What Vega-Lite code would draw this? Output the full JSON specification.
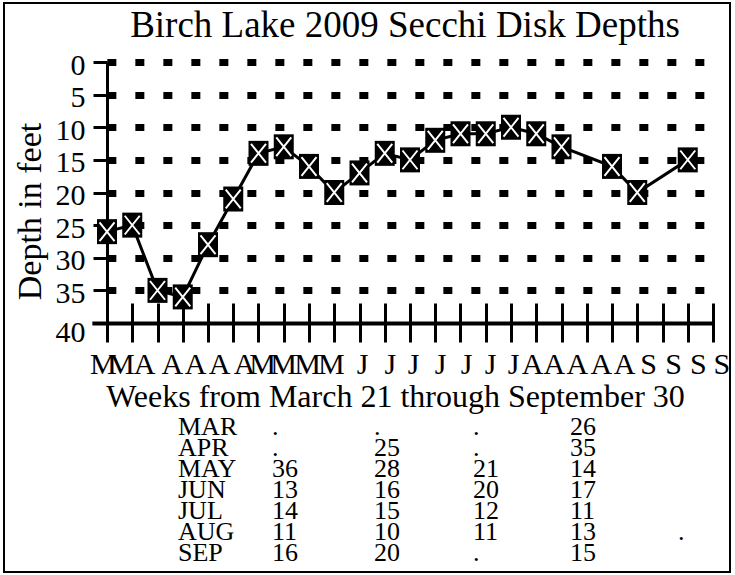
{
  "$schema": "https://vega.github.io/schema/vega-lite/v6.json",
  "width": 726,
  "height": 569,
  "autosize": "none",
  "padding": {"left": 4, "top": 3, "right": 5, "bottom": 3},
  "background": "white",
  "config": {
    "view": {"stroke": "black", "strokeWidth": 2},
    "font": "Liberation Serif",
    "axis": {"labelFont": "Liberation Serif", "titleFont": "Liberation Serif"}
  },
  "title": {
    "text": "Birch Lake 2009 Secchi Disk Depths",
    "font": "Liberation Serif",
    "fontSize": 37,
    "fontWeight": "normal",
    "color": "black",
    "anchor": "middle",
    "frame": "group",
    "baseline": "alphabetic",
    "offset": -35,
    "dx": 38,
    "dy": 36
  },
  "datasets": {
    "depths": [
      {"week": 0, "depth": 26},
      {"week": 1, "depth": 25},
      {"week": 2, "depth": 35},
      {"week": 3, "depth": 36},
      {"week": 4, "depth": 28},
      {"week": 5, "depth": 21},
      {"week": 6, "depth": 14},
      {"week": 7, "depth": 13},
      {"week": 8, "depth": 16},
      {"week": 9, "depth": 20},
      {"week": 10, "depth": 17},
      {"week": 11, "depth": 14},
      {"week": 12, "depth": 15},
      {"week": 13, "depth": 12},
      {"week": 14, "depth": 11},
      {"week": 15, "depth": 11},
      {"week": 16, "depth": 10},
      {"week": 17, "depth": 11},
      {"week": 18, "depth": 13},
      {"week": 20, "depth": 16},
      {"week": 21, "depth": 20},
      {"week": 23, "depth": 15}
    ],
    "table": [
      {"month": "MAR", "col": 0, "value": "MAR"},
      {"month": "MAR", "col": 1, "value": "."},
      {"month": "MAR", "col": 2, "value": "."},
      {"month": "MAR", "col": 3, "value": "."},
      {"month": "MAR", "col": 4, "value": "26"},
      {"month": "APR", "col": 0, "value": "APR"},
      {"month": "APR", "col": 1, "value": "."},
      {"month": "APR", "col": 2, "value": "25"},
      {"month": "APR", "col": 3, "value": "."},
      {"month": "APR", "col": 4, "value": "35"},
      {"month": "MAY", "col": 0, "value": "MAY"},
      {"month": "MAY", "col": 1, "value": "36"},
      {"month": "MAY", "col": 2, "value": "28"},
      {"month": "MAY", "col": 3, "value": "21"},
      {"month": "MAY", "col": 4, "value": "14"},
      {"month": "JUN", "col": 0, "value": "JUN"},
      {"month": "JUN", "col": 1, "value": "13"},
      {"month": "JUN", "col": 2, "value": "16"},
      {"month": "JUN", "col": 3, "value": "20"},
      {"month": "JUN", "col": 4, "value": "17"},
      {"month": "JUL", "col": 0, "value": "JUL"},
      {"month": "JUL", "col": 1, "value": "14"},
      {"month": "JUL", "col": 2, "value": "15"},
      {"month": "JUL", "col": 3, "value": "12"},
      {"month": "JUL", "col": 4, "value": "11"},
      {"month": "AUG", "col": 0, "value": "AUG"},
      {"month": "AUG", "col": 1, "value": "11"},
      {"month": "AUG", "col": 2, "value": "10"},
      {"month": "AUG", "col": 3, "value": "11"},
      {"month": "AUG", "col": 4, "value": "13"},
      {"month": "AUG", "col": 5, "value": "."},
      {"month": "SEP", "col": 0, "value": "SEP"},
      {"month": "SEP", "col": 1, "value": "16"},
      {"month": "SEP", "col": 2, "value": "20"},
      {"month": "SEP", "col": 3, "value": "."},
      {"month": "SEP", "col": 4, "value": "15"}
    ]
  },
  "layer": [
    {
      "data": {"name": "depths"},
      "layer": [
        {
          "mark": {"type": "line", "color": "black", "strokeWidth": 3},
          "encoding": {
            "x": {
              "field": "week",
              "type": "quantitative",
              "scale": {"domain": [-0.6, 24], "range": [87.85, 709], "nice": false, "zero": false},
              "axis": {
                "orient": "bottom",
                "offset": -249,
                "values": [-0.16, 0.55, 1.47, 2.57, 3.49, 4.44, 5.43, 6.14, 6.97, 7.92, 8.87, 10.1, 11.2, 12.12, 13.19, 14.22, 15.17, 16.08, 16.83, 17.7, 18.61, 19.56, 20.48, 21.43, 22.42, 23.4, 24],
                "labelExpr": "datum.value < 1 ? 'M' : datum.value < 6 ? 'A' : datum.value < 9.5 ? 'M' : datum.value < 16.5 ? 'J' : datum.value < 21 ? 'A' : 'S'",
                "labelAlign": {"condition": {"test": "datum.value >= 24", "value": "left"}, "value": "center"},
                "ticks": false,
                "tickSize": 0,
                "domain": true,
                "domainColor": "black",
                "domainWidth": 4,
                "grid": false,
                "labelFontSize": 30,
                "labelColor": "black",
                "labelPadding": 26,
                "labelBaseline": "top",
                "labelOverlap": false,
                "labelFlush": false,
                "labelBound": false,
                "title": "Weeks from March 21 through September 30",
                "titleFontSize": 32,
                "titleFontWeight": "normal",
                "titleColor": "black",
                "titleX": 391,
                "titleY": 83,
                "titleBaseline": "alphabetic",
                "titleAlign": "center"
              }
            },
            "y": {
              "field": "depth",
              "type": "quantitative",
              "scale": {"domain": [0, 40], "range": [59, 320], "nice": false, "zero": false},
              "axis": {
                "orient": "left",
                "offset": -103,
                "values": [0, 5, 10, 15, 20, 25, 30, 35, 40],
                "domain": true,
                "domainColor": "black",
                "domainWidth": 3,
                "ticks": true,
                "tickColor": "black",
                "tickWidth": 3,
                "tickSize": 14,
                "labelFontSize": 30,
                "labelColor": "black",
                "labelPadding": 8,
                "labelBaseline": "middle",
                "labelOffset": {"condition": {"test": "datum.value === 40", "value": 9}, "value": 3},
                "labelOverlap": false,
                "labelFlush": false,
                "grid": true,
                "gridColor": "black",
                "gridWidth": 7,
                "gridDash": [9, 19],
                "gridDashOffset": 13,
                "gridOpacity": {"condition": {"test": "datum.value === 40", "value": 0}, "value": 1},
                "title": "Depth in feet",
                "titleFontSize": 34,
                "titleFontWeight": "normal",
                "titleColor": "black",
                "titleAngle": 270,
                "titleBaseline": "alphabetic",
                "titleAlign": "center",
                "titleX": -67,
                "titleY": 208
              }
            }
          }
        },
        {
          "mark": {"type": "point", "shape": "M-0.8,-1H0.8V1H-0.8Z", "filled": true, "color": "black", "size": 625, "opacity": 1},
          "encoding": {
            "x": {
              "field": "week",
              "type": "quantitative",
              "axis": {
                "orient": "top",
                "offset": -339,
                "values": [0, 1, 2, 3, 4, 5, 6, 7, 8, 9, 10, 11, 12, 13, 14, 15, 16, 17, 18, 19, 20, 21, 22, 23, 24],
                "labels": false,
                "domain": false,
                "grid": false,
                "ticks": true,
                "tickSize": 39,
                "tickWidth": 3,
                "tickColor": "black",
                "title": null
              }
            },
            "y": {"field": "depth", "type": "quantitative"}
          }
        },
        {
          "mark": {"type": "point", "shape": "M-0.6,-0.75L0.6,0.75M0.6,-0.75L-0.6,0.75", "filled": false, "stroke": "white", "strokeWidth": 2, "size": 625, "opacity": 1},
          "encoding": {
            "x": {"field": "week", "type": "quantitative", "axis": null},
            "y": {"field": "depth", "type": "quantitative"}
          }
        }
      ]
    },
    {
      "data": {"name": "table"},
      "mark": {"type": "text", "align": "left", "baseline": "middle", "font": "Liberation Serif", "fontSize": 26, "color": "black"},
      "encoding": {
        "x": {"field": "col", "type": "quantitative", "scale": {"domain": [0, 1, 2, 3, 4, 5], "range": [174, 268, 370, 469, 566, 674], "nice": false, "zero": false}, "axis": null},
        "y": {"field": "month", "type": "ordinal", "sort": ["MAR", "APR", "MAY", "JUN", "JUL", "AUG", "SEP"], "scale": {"type": "point", "range": [424, 550], "padding": 0}, "axis": null},
        "text": {"field": "value"}
      }
    }
  ],
  "resolve": {"scale": {"x": "independent", "y": "independent"}}
}
